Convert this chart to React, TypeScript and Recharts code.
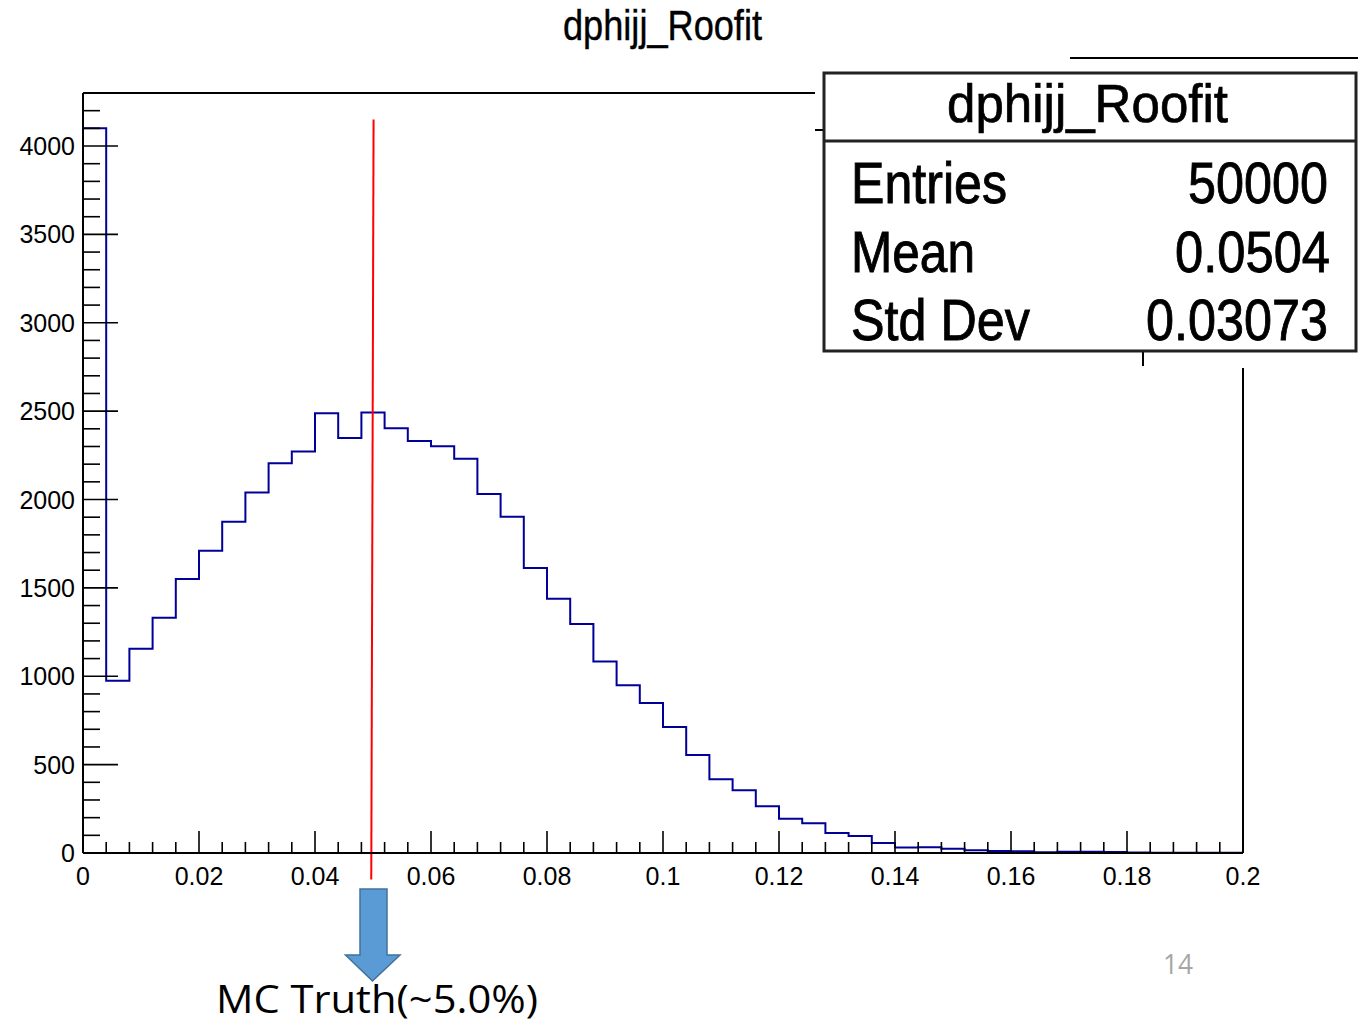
import React from "react";
import { ComposedChart, Line, XAxis, YAxis, ReferenceLine } from "recharts";

// Histogram: dphijj_Roofit, 50 bins of width 0.004 on [0, 0.2]
const binLowEdges = [
  0, 0.004, 0.008, 0.012, 0.016, 0.02, 0.024, 0.028, 0.032, 0.036,
  0.04, 0.044, 0.048, 0.052, 0.056, 0.06, 0.064, 0.068, 0.072, 0.076,
  0.08, 0.084, 0.088, 0.092, 0.096, 0.1, 0.104, 0.108, 0.112, 0.116,
  0.12, 0.124, 0.128, 0.132, 0.136, 0.14, 0.144, 0.148, 0.152, 0.156,
  0.16, 0.164, 0.168, 0.172, 0.176, 0.18, 0.184, 0.188, 0.192, 0.196,
];
const xUpperEdge = 0.2;
const binCounts = [
  4100, 975, 1156, 1331, 1550, 1710, 1874, 2039, 2205, 2271,
  2488, 2348, 2493, 2403, 2331, 2301, 2231, 2031, 1903, 1612,
  1439, 1296, 1083, 949, 849, 713, 554, 417, 355, 265,
  194, 168, 113, 96, 57, 31, 33, 24, 16, 12,
  10, 4, 7, 7, 6, 3, 2, 2, 1, 1,
];

const xMajorLabels = ["0", "0.02", "0.04", "0.06", "0.08", "0.1", "0.12", "0.14", "0.16", "0.18", "0.2"];
const yMajorLabels = ["0", "500", "1000", "1500", "2000", "2500", "3000", "3500", "4000"];
const xDomain = [0, 0.2];
const yDomain = [0, 4300];
const xMinorPerMajor = 5;
const yMinorStep = 100;
const yMinorMax = 4200;

const mcTruth = 0.05;
const mcLineTop = 4150;
const mcLineBottom = -150;

const statsTitle = "dphijj_Roofit";
const statsRows = [
  { name: "Entries", value: "50000" },
  { name: "Mean", value: "0.0504" },
  { name: "Std Dev", value: "0.03073" },
];

const histData = [
  ...binLowEdges.map((x, i) => ({ x, y: binCounts[i] })),
  { x: xUpperEdge, y: binCounts[binCounts.length - 1] },
];

const xTicks = Array.from({ length: (xMajorLabels.length - 1) * xMinorPerMajor + 1 }, (_, i) => i / 250);
const yTicks = Array.from({ length: yMinorMax / yMinorStep + 1 }, (_, i) => i * yMinorStep);

const FONT = "'Liberation Sans', Arial, Helvetica, sans-serif";

const XTick = (props: any) => {
  const { x, y, index } = props;
  const major = index % xMinorPerMajor === 0;
  return (
    <g>
      <line x1={x} x2={x} y1={y} y2={y - (major ? 22 : 11)} stroke="#000" strokeWidth={1.6} />
      {major && (
        <text x={x} y={y + 32} textAnchor="middle" fontSize={25} fontFamily={FONT} fill="#000">
          {xMajorLabels[index / xMinorPerMajor]}
        </text>
      )}
    </g>
  );
};

const YTick = (props: any) => {
  const { x, y, payload } = props;
  const v = payload.value;
  const major = v % 500 === 0;
  return (
    <g>
      <line x1={x} x2={x + (major ? 35 : 17)} y1={y} y2={y} stroke="#000" strokeWidth={1.6} />
      {major && (
        <text x={x - 8} y={y + 9} textAnchor="end" fontSize={25} fontFamily={FONT} fill="#000">
          {yMajorLabels[v / 500]}
        </text>
      )}
    </g>
  );
};

export default function App() {
  return (
    <div style={{ position: "absolute", left: 0, top: 0, width: 1358, height: 1025, background: "#fff" }}>
      <ComposedChart
        width={1358}
        height={1025}
        data={histData}
        margin={{ top: 93, right: 115, bottom: 132, left: 0 }}
      >
        <XAxis
          dataKey="x"
          type="number"
          domain={xDomain}
          ticks={xTicks}
          interval={0}
          tickSize={0}
          tickMargin={0}
          tickLine={false}
          tick={<XTick />}
          axisLine={{ stroke: "#000", strokeWidth: 2 }}
          height={40}
          allowDataOverflow
        />
        <YAxis
          type="number"
          domain={yDomain}
          ticks={yTicks}
          interval={0}
          tickSize={0}
          tickMargin={0}
          tickLine={false}
          tick={<YTick />}
          axisLine={{ stroke: "#000", strokeWidth: 2 }}
          width={83}
          allowDataOverflow
        />
        <Line
          type="stepAfter"
          dataKey="y"
          stroke="#000099"
          strokeWidth={2}
          dot={false}
          activeDot={false}
          isAnimationActive={false}
        />
        <ReferenceLine
          segment={[
            { x: mcTruth + 0.0001, y: mcLineTop },
            { x: mcTruth - 0.0003, y: mcLineBottom },
          ]}
          stroke="#ff0000"
          strokeWidth={2}
          ifOverflow="visible"
        />
      </ComposedChart>
      <svg
        width={1358}
        height={1025}
        style={{ position: "absolute", left: 0, top: 0, pointerEvents: "none" }}
      >
        {/* main title */}
        <text x={563} y={40} fontSize={42} fontFamily={FONT} textLength={199} lengthAdjust="spacingAndGlyphs" fill="#000" stroke="#000" strokeWidth={0.4}>
          dphijj_Roofit
        </text>
        {/* frame pieces */}
        <line x1={83} x2={815} y1={93} y2={93} stroke="#000" strokeWidth={2} />
        <line x1={1243} x2={1243} y1={368} y2={853} stroke="#000" strokeWidth={2} />
        <line x1={1070} x2={1358} y1={58} y2={58} stroke="#000" strokeWidth={2} />
        <line x1={815} x2={823} y1={130} y2={130} stroke="#000" strokeWidth={2} />
        <line x1={1143} x2={1143} y1={351} y2={366} stroke="#000" strokeWidth={2} />
        {/* stats box */}
        <rect x={824} y={73} width={532} height={278} fill="#fff" stroke="#222" strokeWidth={3} />
        <line x1={824} x2={1356} y1={141} y2={141} stroke="#222" strokeWidth={3} />
        <text x={947} y={122} fontSize={54} fontFamily={FONT} textLength={281} lengthAdjust="spacingAndGlyphs" fill="#000" stroke="#000" strokeWidth={0.7}>
          {statsTitle}
        </text>
        {statsRows.map((r, i) => (
          <g key={r.name}>
            <text x={851} y={203 + i * 68.5} fontSize={58} fontFamily={FONT} textLength={[156, 124, 179][i]} lengthAdjust="spacingAndGlyphs" fill="#000" stroke="#000" strokeWidth={0.9}>
              {r.name}
            </text>
            <text x={[1188, 1175, 1146][i]} y={203 + i * 68.5} fontSize={58} fontFamily={FONT} textLength={[140, 155, 182][i]} lengthAdjust="spacingAndGlyphs" fill="#000" stroke="#000" strokeWidth={0.9}>
              {r.value}
            </text>
          </g>
        ))}
        {/* arrow */}
        <polygon
          points="360,889 387,889 387,955 400,955 372.5,981 345.5,955 360,955"
          fill="#5B9BD5"
          stroke="#41719C"
          strokeWidth={1.5}
        />
        <text x={216} y={1013} fontSize={38} fontFamily="'Open Sans', 'Noto Sans', sans-serif" textLength={322} lengthAdjust="spacingAndGlyphs" fill="#000">
          MC Truth(~5.0%)
        </text>
        <text x={1163} y={974} fontSize={27} fontFamily="'Open Sans', sans-serif" textLength={30} lengthAdjust="spacingAndGlyphs" fill="#a6a6a6">
          14
        </text>
      </svg>
    </div>
  );
}
